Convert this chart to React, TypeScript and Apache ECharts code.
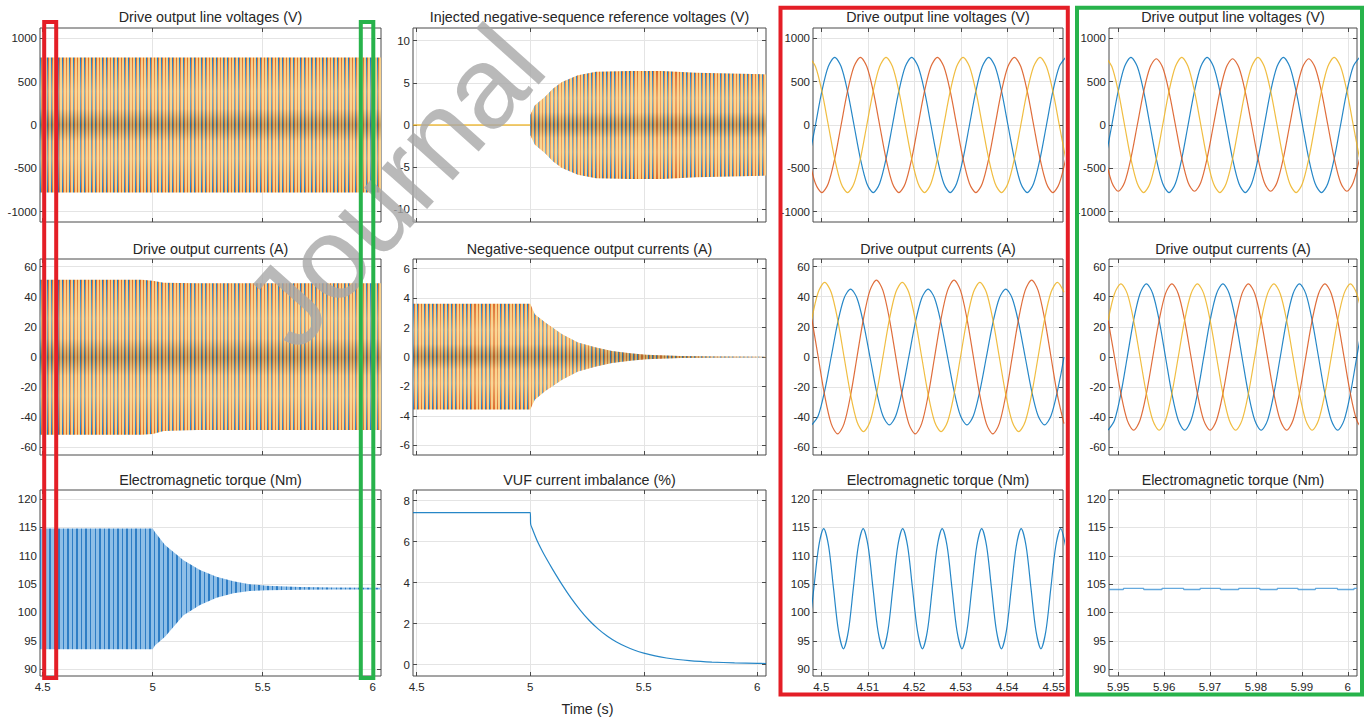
import React, { useEffect, useRef } from 'react';
import * as echarts from 'echarts';

// ================= DATA =================
const BLUE = '#0072BD';
const ORANGE = '#D95319';
const YELLOW = '#EDB120';

const titleRow1 = ['Drive output line voltages (V)', 'Injected negative-sequence reference voltages (V)', 'Drive output line voltages (V)', 'Drive output line voltages (V)'];
const titleRow2 = ['Drive output currents (A)', 'Negative-sequence output currents (A)', 'Drive output currents (A)', 'Drive output currents (A)'];
const titleRow3 = ['Electromagnetic torque (Nm)', 'VUF current imbalance (%)', 'Electromagnetic torque (Nm)', 'Electromagnetic torque (Nm)'];
const xAxisTitle = 'Time (s)';
const watermarkText = 'Journal';

// tick labels
const xTicksLong = [4.5, 5, 5.5, 6];
const xTicksRed = [4.5, 4.51, 4.52, 4.53, 4.54, 4.55];
const xTicksGreen = [5.95, 5.96, 5.97, 5.98, 5.99, 6];
const yTicksVolt = [-1000, -500, 0, 500, 1000];
const yTicksCur = [-60, -40, -20, 0, 20, 40, 60];
const yTicksRef = [-10, -5, 0, 5, 10];
const yTicksNeg = [-6, -4, -2, 0, 2, 4, 6];
const yTicksVuf = [0, 2, 4, 6, 8];
const yTicksTorque = [90, 95, 100, 105, 110, 115, 120];

// axis ranges
const xRangeCol1 = [4.4877, 6.0377];
const xRangeCol2 = [4.4837, 6.0383];
const xRangeRed = [4.4982, 4.552];
const xRangeGreen = [5.948, 6.002];
const yRangeVolt = [-1120, 1120];
const yRangeCur = [-65, 65];
const yRangeRef = [-11.5, 11.5];
const yRangeNeg = [-6.65, 6.65];
const yRangeVuf = [-0.56, 8.52];
const yRangeTorque = [88.8, 121.6];

// ---- long-window envelopes (dense oscillations) ----
const voltEnvT = [4.4877, 6.0377];
const voltEnvUpper = [778, 778];
const voltEnvLower = [-778, -778];

const curEnvT = [4.4877, 4.95, 5.0, 5.05, 5.2, 6.0377];
const curEnvUpper = [51.2, 51.2, 50.5, 49.2, 48.9, 48.9];
const curEnvLower = [-51.5, -51.5, -51, -49, -48.4, -48.4];

const refZeroT = [4.4837, 5.0];
const refZeroV = [0, 0];
const refEnvT = [5.0, 5.02, 5.066, 5.1, 5.14, 5.21, 5.29, 5.44, 5.58, 5.73, 5.88, 6.0383];
const refEnvUpper = [1.2, 2.3, 3.35, 4.3, 5.1, 5.9, 6.3, 6.4, 6.4, 6.2, 6.1, 6.0];
const refEnvLower = [-1.2, -2.3, -3.35, -4.3, -5.1, -5.9, -6.3, -6.4, -6.4, -6.2, -6.1, -6.0];

const negEnvT = [4.4837, 5.0, 5.02, 5.066, 5.14, 5.21, 5.29, 5.36, 5.44, 5.51, 5.66, 5.8, 6.0383];
const negEnvUpper = [3.62, 3.62, 2.9, 2.34, 1.55, 0.98, 0.64, 0.41, 0.25, 0.16, 0.07, 0.03, 0.02];
const negEnvLower = [-3.57, -3.57, -2.9, -2.3, -1.55, -0.98, -0.64, -0.41, -0.25, -0.16, -0.07, -0.03, -0.02];

const torqueEnvT = [4.4877, 5.0, 5.01, 5.056, 5.14, 5.215, 5.29, 5.367, 5.44, 5.52, 5.67, 5.82, 6.0377];
const torqueEnvUpper = [114.8, 114.8, 114.2, 111.9, 109.2, 107.5, 106.3, 105.5, 105.0, 104.7, 104.5, 104.4, 104.35];
const torqueEnvLower = [93.5, 93.5, 94.2, 95.7, 99.5, 101.3, 102.6, 103.4, 103.8, 103.9, 104.0, 104.05, 104.05];

const vufT = [4.4837, 5.0, 5.002, 5.01, 5.03, 5.05, 5.066, 5.1, 5.14, 5.18, 5.22, 5.26, 5.3, 5.34, 5.38, 5.42, 5.46, 5.5, 5.55, 5.6, 5.65, 5.7, 5.75, 5.8, 5.9, 6.0, 6.0383];
const vufV = [7.42, 7.42, 6.85, 6.6, 6.05, 5.6, 5.27, 4.62, 3.9, 3.24, 2.66, 2.15, 1.73, 1.38, 1.1, 0.88, 0.7, 0.56, 0.42, 0.32, 0.245, 0.19, 0.15, 0.12, 0.08, 0.055, 0.05];

// ---- red window (4.498 - 4.552 s) ----
const redVoltT = [4.49735, 4.49873, 4.50011, 4.50149, 4.50287, 4.50425, 4.50563, 4.50702, 4.50840, 4.50978, 4.51116, 4.51254, 4.51392, 4.51530, 4.51668, 4.51806, 4.51944, 4.52082, 4.52220, 4.52358, 4.52497, 4.52635, 4.52773, 4.52911, 4.53049, 4.53187, 4.53325, 4.53463, 4.53601, 4.53739, 4.53877, 4.54015, 4.54154, 4.54292, 4.54430, 4.54568, 4.54706, 4.54844, 4.54982, 4.55120, 4.55258];
const redVoltBlue = [-390, 0, 390, 675, 780, 675, 390, 0, -390, -675, -780, -675, -390, 0, 390, 675, 780, 675, 390, 0, -390, -675, -780, -675, -390, 0, 390, 675, 780, 675, 390, 0, -390, -675, -780, -675, -390, 0, 390, 675, 780];
const redVoltOrange = [-390, -675, -780, -675, -390, 0, 390, 675, 780, 675, 390, 0, -390, -675, -780, -675, -390, 0, 390, 675, 780, 675, 390, 0, -390, -675, -780, -675, -390, 0, 390, 675, 780, 675, 390, 0, -390, -675, -780, -675, -390];
const redVoltYellow = [780, 675, 390, 0, -390, -675, -780, -675, -390, 0, 390, 675, 780, 675, 390, 0, -390, -675, -780, -675, -390, 0, 390, 675, 780, 675, 390, 0, -390, -675, -780, -675, -390, 0, 390, 675, 780, 675, 390, 0, -390];

const redCurT = [4.49793, 4.49932, 4.50071, 4.50211, 4.50350, 4.50489, 4.50628, 4.50767, 4.50906, 4.51046, 4.51185, 4.51324, 4.51463, 4.51602, 4.51741, 4.51881, 4.52020, 4.52159, 4.52298, 4.52437, 4.52576, 4.52716, 4.52855, 4.52994, 4.53133, 4.53272, 4.53411, 4.53551, 4.53690, 4.53829, 4.53968, 4.54107, 4.54246, 4.54386, 4.54525, 4.54664, 4.54803, 4.54942, 4.55081, 4.55221];
const redCurBlue = [-45, -39, -22.5, 0, 22.5, 39, 45, 39, 22.5, 0, -22.5, -39, -45, -39, -22.5, 0, 22.5, 39, 45, 39, 22.5, 0, -22.5, -39, -45, -39, -22.5, 0, 22.5, 39, 45, 39, 22.5, 0, -22.5, -39, -45, -39, -22.5, 0];
const redCurOrange = [25.5, 0, -25.5, -44.2, -51, -44.2, -25.5, 0, 25.5, 44.2, 51, 44.2, 25.5, 0, -25.5, -44.2, -51, -44.2, -25.5, 0, 25.5, 44.2, 51, 44.2, 25.5, 0, -25.5, -44.2, -51, -44.2, -25.5, 0, 25.5, 44.2, 51, 44.2, 25.5, 0, -25.5, -44.2];
const redCurYellow = [24.8, 42.9, 49.5, 42.9, 24.8, 0, -24.8, -42.9, -49.5, -42.9, -24.8, 0, 24.8, 42.9, 49.5, 42.9, 24.8, 0, -24.8, -42.9, -49.5, -42.9, -24.8, 0, 24.8, 42.9, 49.5, 42.9, 24.8, 0, -24.8, -42.9, -49.5, -42.9, -24.8, 0, 24.8, 42.9, 49.5, 42.9];

const redTorqueT = [4.49731, 4.49837, 4.49944, 4.50050, 4.50156, 4.50262, 4.50369, 4.50475, 4.50581, 4.50687, 4.50794, 4.50900, 4.51006, 4.51112, 4.51219, 4.51325, 4.51431, 4.51537, 4.51644, 4.51750, 4.51856, 4.51962, 4.52069, 4.52175, 4.52281, 4.52387, 4.52494, 4.52600, 4.52706, 4.52812, 4.52919, 4.53025, 4.53131, 4.53237, 4.53344, 4.53450, 4.53556, 4.53662, 4.53769, 4.53875, 4.53981, 4.54087, 4.54194, 4.54300, 4.54406, 4.54512, 4.54619, 4.54725, 4.54831, 4.54937, 4.55044, 4.55150, 4.55256];
const redTorqueV = [96.7, 104.2, 111.7, 114.8, 111.7, 104.2, 96.7, 93.6, 96.7, 104.2, 111.7, 114.8, 111.7, 104.2, 96.7, 93.6, 96.7, 104.2, 111.7, 114.8, 111.7, 104.2, 96.7, 93.6, 96.7, 104.2, 111.7, 114.8, 111.7, 104.2, 96.7, 93.6, 96.7, 104.2, 111.7, 114.8, 111.7, 104.2, 96.7, 93.6, 96.7, 104.2, 111.7, 114.8, 111.7, 104.2, 96.7, 93.6, 96.7, 104.2, 111.7, 114.8, 111.7];

// ---- green window (5.948 - 6.002 s) ----
const greenVoltT = [5.94724, 5.94862, 5.95001, 5.95139, 5.95277, 5.95416, 5.95554, 5.95692, 5.95830, 5.95969, 5.96107, 5.96246, 5.96384, 5.96522, 5.96661, 5.96799, 5.96937, 5.97075, 5.97214, 5.97352, 5.97491, 5.97629, 5.97767, 5.97906, 5.98044, 5.98182, 5.98320, 5.98459, 5.98597, 5.98735, 5.98874, 5.99012, 5.99150, 5.99288, 5.99427, 5.99565, 5.99703, 5.99842, 5.99980, 6.00118, 6.00257];
const greenVoltBlue = [-390, 0, 390, 675, 780, 675, 390, 0, -390, -675, -780, -675, -390, 0, 390, 675, 780, 675, 390, 0, -390, -675, -780, -675, -390, 0, 390, 675, 780, 675, 390, 0, -390, -675, -780, -675, -390, 0, 390, 675, 780];
const greenVoltOrange = [-383, -663, -765, -663, -383, 0, 383, 663, 765, 663, 383, 0, -383, -663, -765, -663, -383, 0, 383, 663, 765, 663, 383, 0, -383, -663, -765, -663, -383, 0, 383, 663, 765, 663, 383, 0, -383, -663, -765, -663, -383];
const greenVoltYellow = [780, 675, 390, 0, -390, -675, -780, -675, -390, 0, 390, 675, 780, 675, 390, 0, -390, -675, -780, -675, -390, 0, 390, 675, 780, 675, 390, 0, -390, -675, -780, -675, -390, 0, 390, 675, 780, 675, 390, 0, -390];

const greenCurT = [5.94781, 5.94920, 5.95059, 5.95198, 5.95336, 5.95475, 5.95614, 5.95753, 5.95892, 5.96030, 5.96169, 5.96308, 5.96447, 5.96586, 5.96725, 5.96863, 5.97002, 5.97141, 5.97280, 5.97419, 5.97558, 5.97696, 5.97835, 5.97974, 5.98113, 5.98252, 5.98390, 5.98529, 5.98668, 5.98807, 5.98946, 5.99085, 5.99223, 5.99362, 5.99501, 5.99640, 5.99779, 5.99918, 6.00056, 6.00195, 6.00334];
const greenCurBlue = [-48.5, -42, -24.3, 0, 24.3, 42, 48.5, 42, 24.3, 0, -24.3, -42, -48.5, -42, -24.3, 0, 24.3, 42, 48.5, 42, 24.3, 0, -24.3, -42, -48.5, -42, -24.3, 0, 24.3, 42, 48.5, 42, 24.3, 0, -24.3, -42, -48.5, -42, -24.3, 0, 24.3];
const greenCurOrange = [24.3, 0, -24.3, -42, -48.5, -42, -24.3, 0, 24.3, 42, 48.5, 42, 24.3, 0, -24.3, -42, -48.5, -42, -24.3, 0, 24.3, 42, 48.5, 42, 24.3, 0, -24.3, -42, -48.5, -42, -24.3, 0, 24.3, 42, 48.5, 42, 24.3, 0, -24.3, -42, -48.5];
const greenCurYellow = [24.3, 42, 48.5, 42, 24.3, 0, -24.3, -42, -48.5, -42, -24.3, 0, 24.3, 42, 48.5, 42, 24.3, 0, -24.3, -42, -48.5, -42, -24.3, 0, 24.3, 42, 48.5, 42, 24.3, 0, -24.3, -42, -48.5, -42, -24.3, 0, 24.3, 42, 48.5, 42, 24.3];

const greenTorqueT = [5.948, 5.9511, 5.9512, 5.9555, 5.9556, 5.9595, 5.9596, 5.9642, 5.9643, 5.9678, 5.9679, 5.9722, 5.9723, 5.9762, 5.9763, 5.9808, 5.9809, 5.9846, 5.9847, 5.9891, 5.9892, 5.9929, 5.9930, 5.9977, 5.9978, 6.0013, 6.0014, 6.002];
const greenTorqueV = [104.05, 104.05, 104.25, 104.25, 104.05, 104.05, 104.25, 104.25, 104.05, 104.05, 104.25, 104.25, 104.05, 104.05, 104.25, 104.25, 104.05, 104.05, 104.25, 104.25, 104.05, 104.05, 104.25, 104.25, 104.05, 104.05, 104.25, 104.25];

// ================= LAYOUT / STYLE =================
const FONT = '"Liberation Sans", Arial, Helvetica, sans-serif';
const TEXT = '#262626';
const FRAME = '#4a4a4a';
const GRIDLINE = '#e4e4e4';
const RED = '#E41E26';
const GREEN = '#27B34B';

const COLS = [
  { left: 40, width: 341 },
  { left: 413, width: 353 },
  { left: 813, width: 250 },
  { left: 1109, width: 248 },
];
const ROWS = [
  { top: 28, height: 194, titleY: 17 },
  { top: 259, height: 196, titleY: 249 },
  { top: 490, height: 186, titleY: 480 },
];

const PANELS = [
  { title: titleRow1[0], x: xRangeCol1, xt: xTicksLong, y: yRangeVolt, yt: yTicksVolt },
  { title: titleRow1[1], x: xRangeCol2, xt: xTicksLong, y: yRangeRef, yt: yTicksRef },
  { title: titleRow1[2], x: xRangeRed, xt: xTicksRed, y: yRangeVolt, yt: yTicksVolt },
  { title: titleRow1[3], x: xRangeGreen, xt: xTicksGreen, y: yRangeVolt, yt: yTicksVolt },
  { title: titleRow2[0], x: xRangeCol1, xt: xTicksLong, y: yRangeCur, yt: yTicksCur },
  { title: titleRow2[1], x: xRangeCol2, xt: xTicksLong, y: yRangeNeg, yt: yTicksNeg },
  { title: titleRow2[2], x: xRangeRed, xt: xTicksRed, y: yRangeCur, yt: yTicksCur },
  { title: titleRow2[3], x: xRangeGreen, xt: xTicksGreen, y: yRangeCur, yt: yTicksCur },
  { title: titleRow3[0], x: xRangeCol1, xt: xTicksLong, y: yRangeTorque, yt: yTicksTorque },
  { title: titleRow3[1], x: xRangeCol2, xt: xTicksLong, y: yRangeVuf, yt: yTicksVuf },
  { title: titleRow3[2], x: xRangeRed, xt: xTicksRed, y: yRangeTorque, yt: yTicksTorque },
  { title: titleRow3[3], x: xRangeGreen, xt: xTicksGreen, y: yRangeTorque, yt: yTicksTorque },
];

function zip(t: number[], v: number[]) {
  return t.map((x, i) => [x, v[i]]);
}

function stripeGradient(cycles: number, segs: { c: string; f: number }[]) {
  const stops: { offset: number; color: string }[] = [];
  for (let i = 0; i < cycles; i++) {
    let acc = 0;
    for (const s of segs) {
      const a = (i + acc) / cycles;
      const b = Math.min(1, (i + acc + s.f) / cycles);
      stops.push({ offset: a, color: s.c });
      stops.push({ offset: b, color: s.c });
      acc += s.f;
    }
  }
  return new echarts.graphic.LinearGradient(0, 0, 1, 0, stops);
}

function overlayGradient() {
  return new echarts.graphic.LinearGradient(0, 0, 0, 1, [
    { offset: 0, color: 'rgba(255,255,255,0)' },
    { offset: 0.12, color: 'rgba(255,228,170,0.25)' },
    { offset: 0.25, color: 'rgba(255,228,170,0.5)' },
    { offset: 0.38, color: 'rgba(255,228,170,0.35)' },
    { offset: 0.5, color: 'rgba(95,85,45,0.3)' },
    { offset: 0.62, color: 'rgba(255,228,170,0.35)' },
    { offset: 0.75, color: 'rgba(255,228,170,0.5)' },
    { offset: 0.88, color: 'rgba(255,228,170,0.25)' },
    { offset: 1, color: 'rgba(255,255,255,0)' },
  ]);
}

function lineSeries(gi: number, t: number[], v: number[], color: string, width = 1.2, smooth: any = 0.3, z = 4, opacity = 0.85) {
  return {
    type: 'line',
    xAxisIndex: gi * 2,
    yAxisIndex: gi * 2,
    data: zip(t, v),
    showSymbol: false,
    symbol: 'none',
    smooth,
    lineStyle: { color, width, opacity },
    z,
    silent: true,
  };
}

// envelope band drawn as a polygon through the axis scales (api.coord)
function bandSeries(gi: number, t: number[], upper: number[], lower: number[], fill: any, z = 2) {
  return {
    type: 'custom',
    xAxisIndex: gi * 2,
    yAxisIndex: gi * 2,
    data: t.map((x, i) => [x, upper[i], lower[i]]),
    encode: { x: 0, y: [1, 2] },
    clip: true,
    silent: true,
    z,
    renderItem: (params: any, api: any) => {
      if (params.dataIndex !== 0) return null;
      const pts: number[][] = [];
      for (let i = 0; i < t.length; i++) pts.push(api.coord([t[i], upper[i]]));
      for (let i = t.length - 1; i >= 0; i--) pts.push(api.coord([t[i], lower[i]]));
      return {
        type: 'polygon',
        shape: { points: pts },
        style: { fill, stroke: null },
      };
    },
  };
}

function buildOption() {
  const grid: any[] = [];
  const xAxis: any[] = [];
  const yAxis: any[] = [];
  const graphic: any[] = [];
  const fmt = (v: number) => String(v);

  PANELS.forEach((p, gi) => {
    const r = Math.floor(gi / 4);
    const c = gi % 4;
    const C = COLS[c];
    const R = ROWS[r];
    grid.push({
      left: C.left,
      top: R.top,
      width: C.width,
      height: R.height,
      show: true,
      borderColor: FRAME,
      borderWidth: 1,
      backgroundColor: 'transparent',
    });
    const tickStyle = { color: FRAME, width: 1 };
    const noLine = { show: false, onZero: false };
    xAxis.push({
      type: 'value',
      gridIndex: gi,
      position: 'bottom',
      min: p.x[0],
      max: p.x[1],
      axisLine: noLine,
      axisTick: { show: true, inside: true, length: 4, customValues: p.xt, lineStyle: tickStyle },
      axisLabel: {
        show: r === 2,
        customValues: p.xt,
        formatter: fmt,
        fontSize: 11.5,
        color: TEXT,
        fontFamily: FONT,
        margin: 5,
      },
      splitLine: { show: true, lineStyle: { color: GRIDLINE, width: 1 } },
    });
    xAxis.push({
      type: 'value',
      gridIndex: gi,
      position: 'top',
      min: p.x[0],
      max: p.x[1],
      axisLine: noLine,
      axisTick: { show: true, inside: true, length: 4, customValues: p.xt, lineStyle: tickStyle },
      axisLabel: { show: false },
      splitLine: { show: false },
    });
    yAxis.push({
      type: 'value',
      gridIndex: gi,
      position: 'left',
      min: p.y[0],
      max: p.y[1],
      axisLine: noLine,
      axisTick: { show: true, inside: true, length: 4, customValues: p.yt, lineStyle: tickStyle },
      axisLabel: {
        show: true,
        customValues: p.yt,
        formatter: fmt,
        fontSize: 11.5,
        color: TEXT,
        fontFamily: FONT,
        margin: 3,
      },
      splitLine: { show: true, lineStyle: { color: GRIDLINE, width: 1 } },
    });
    yAxis.push({
      type: 'value',
      gridIndex: gi,
      position: 'right',
      min: p.y[0],
      max: p.y[1],
      axisLine: noLine,
      axisTick: { show: true, inside: true, length: 4, customValues: p.yt, lineStyle: tickStyle },
      axisLabel: { show: false },
      splitLine: { show: false },
    });
    graphic.push({
      type: 'text',
      x: C.left + C.width / 2,
      y: R.titleY,
      silent: true,
      style: {
        text: p.title,
        fontSize: 14.3,
        fontFamily: FONT,
        fill: TEXT,
        textAlign: 'center',
        textVerticalAlign: 'middle',
        align: 'center',
        verticalAlign: 'middle',
      },
      z: 50,
    });
  });

  // x axis name
  graphic.push({
    type: 'text',
    x: COLS[1].left + COLS[1].width / 2 - 2,
    y: 709,
    silent: true,
    style: {
      text: xAxisTitle,
      fontSize: 14.3,
      fontFamily: FONT,
      fill: TEXT,
      textAlign: 'center',
      textVerticalAlign: 'middle',
      align: 'center',
      verticalAlign: 'middle',
    },
    z: 50,
  });

  // watermark
  graphic.push({
    type: 'text',
    x: 394,
    y: 186,
    rotation: 0.84,
    silent: true,
    style: {
      text: watermarkText,
      fontSize: 116,
      fontFamily: FONT,
      fill: 'rgba(168,168,168,0.8)',
      textAlign: 'center',
      textVerticalAlign: 'middle',
      align: 'center',
      verticalAlign: 'middle',
    },
    z: 100,
  });

  // highlight boxes
  const box = (x: number, y: number, w: number, h: number, color: string) => ({
    type: 'rect',
    silent: true,
    shape: { x, y, width: w, height: h },
    style: { fill: 'none', stroke: color, lineWidth: 4 },
    z: 120,
  });
  graphic.push(box(44.2, 22, 12, 656, RED));
  graphic.push(box(360.8, 22, 12.5, 656, GREEN));
  graphic.push(box(780.5, 7.8, 287.3, 686.7, RED));
  graphic.push(box(1077, 7.8, 285, 686.7, GREEN));

  const phaseStripes = [
    { c: '#1A7CC4', f: 0.2 },
    { c: '#DD6A2A', f: 0.27 },
    { c: '#F6CB80', f: 0.53 },
  ];
  const torqueStripes = [
    { c: '#2E7DC5', f: 0.32 },
    { c: '#8EBEE7', f: 0.68 },
  ];

  const series: any[] = [
    // row 1
    bandSeries(0, voltEnvT, voltEnvUpper, voltEnvLower, stripeGradient(93, phaseStripes)),
    bandSeries(0, voltEnvT, voltEnvUpper, voltEnvLower, overlayGradient(), 3),
    lineSeries(1, refZeroT, refZeroV, YELLOW, 1.5, false),
    bandSeries(1, refEnvT, refEnvUpper, refEnvLower, stripeGradient(62, phaseStripes)),
    bandSeries(1, refEnvT, refEnvUpper, refEnvLower, overlayGradient(), 3),
    lineSeries(2, redVoltT, redVoltBlue, BLUE),
    lineSeries(2, redVoltT, redVoltOrange, ORANGE),
    lineSeries(2, redVoltT, redVoltYellow, YELLOW),
    lineSeries(3, greenVoltT, greenVoltBlue, BLUE),
    lineSeries(3, greenVoltT, greenVoltOrange, ORANGE),
    lineSeries(3, greenVoltT, greenVoltYellow, YELLOW),
    // row 2
    bandSeries(4, curEnvT, curEnvUpper, curEnvLower, stripeGradient(93, phaseStripes)),
    bandSeries(4, curEnvT, curEnvUpper, curEnvLower, overlayGradient(), 3),
    bandSeries(5, negEnvT, negEnvUpper, negEnvLower, stripeGradient(93, phaseStripes)),
    bandSeries(5, negEnvT, negEnvUpper, negEnvLower, overlayGradient(), 3),
    lineSeries(6, redCurT, redCurBlue, BLUE),
    lineSeries(6, redCurT, redCurOrange, ORANGE),
    lineSeries(6, redCurT, redCurYellow, YELLOW),
    lineSeries(7, greenCurT, greenCurBlue, BLUE),
    lineSeries(7, greenCurT, greenCurOrange, ORANGE),
    lineSeries(7, greenCurT, greenCurYellow, YELLOW),
    // row 3
    bandSeries(8, torqueEnvT, torqueEnvUpper, torqueEnvLower, stripeGradient(75, torqueStripes)),
    lineSeries(9, vufT, vufV, BLUE, 1.2, 0.25),
    lineSeries(10, redTorqueT, redTorqueV, BLUE),
    lineSeries(11, greenTorqueT, greenTorqueV, '#4a9ad8', 1.4, false),
  ];

  return {
    animation: false,
    backgroundColor: '#ffffff',
    grid,
    xAxis,
    yAxis,
    series,
    graphic,
  };
}

export default function App() {
  const ref = useRef<HTMLDivElement>(null);
  useEffect(() => {
    if (!ref.current) return;
    const chart = echarts.init(ref.current, undefined, { renderer: 'svg' });
    chart.setOption(buildOption() as any);
    return () => {
      chart.dispose();
    };
  }, []);
  return (
    <div
      ref={ref}
      style={{ position: 'fixed', left: 0, top: 0, width: 1364, height: 719, background: '#fff' }}
    />
  );
}
